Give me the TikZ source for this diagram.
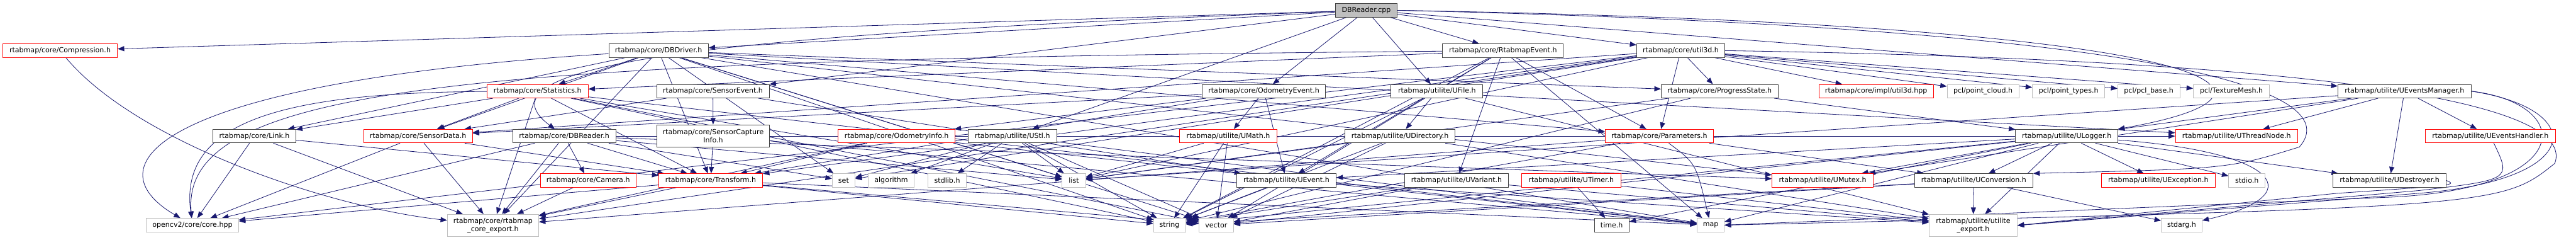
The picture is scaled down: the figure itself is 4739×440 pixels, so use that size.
\documentclass[tikz,border=0pt]{standalone}
\usepackage{fontspec}
\setmainfont{DejaVu Sans}
\usepackage{tikz}
\usetikzlibrary{arrows.meta,backgrounds}
\tikzset{every node/.style={font=\fontsize{9.6}{11.5}\selectfont}}
\definecolor{edgecol}{HTML}{191970}
\definecolor{boxcol}{HTML}{404040}
\definecolor{syscol}{HTML}{BFBFBF}
\colorlet{rootcol}{syscol}
\colorlet{trunccol}{red}
\tikzset{
  hdr/.style={draw=boxcol, line width=0.75pt, fill=white, minimum height=18.75pt,
    inner xsep=2pt, inner ysep=1pt, align=center},
  redhdr/.style={hdr, draw=trunccol},
  syshdr/.style={hdr, draw=syscol},
  wd/.style={minimum width=#1*0.75pt},
  tall/.style={minimum height=30.5pt},
  dep/.style={draw=edgecol, line width=0.7pt, ->},
}

\begin{document}
\begin{tikzpicture}[x=0.75pt, y=-0.75pt, >={Triangle[length=9pt,width=7pt]}]

  % Page frame.
  \useasboundingbox (0,0) rectangle (4739,440);

  % The source file.
  \node[hdr, fill=rootcol, wd=113] (cpp) at (2513.5,19) {DBReader.cpp};

  % Headers it includes directly.
  \node[redhdr, wd=211] (compr) at (110.5,93) {rtabmap/core/Compression.h};
  \node[hdr, wd=183] (dbdrv) at (1211.5,93) {rtabmap/core/DBDriver.h};
  \node[hdr, wd=222] (rtevt) at (2765,93) {rtabmap/core/RtabmapEvent.h};
  \node[hdr, wd=162] (util3d) at (3092,93) {rtabmap/core/util3d.h};

  % Third row.
  \node[redhdr, wd=186] (stats) at (989,167.5) {rtabmap/core/Statistics.h};
  \node[hdr, wd=207] (senevt) at (1311.5,167.5) {rtabmap/core/SensorEvent.h};
  \node[hdr, wd=226] (odoevt) at (2325,167.5) {rtabmap/core/OdometryEvent.h};
  \node[hdr, wd=169] (ufile) at (2643.5,167.5) {rtabmap/utilite/UFile.h};
  \node[hdr, wd=215] (progress) at (3163.5,167.5) {rtabmap/core/ProgressState.h};
  \node[redhdr, wd=211] (u3dhpp) at (3451.5,167.5) {rtabmap/core/impl/util3d.hpp};
  \node[syshdr, wd=132] (pclcloud) at (3648,167.5) {pcl/point\_cloud.h};
  \node[syshdr, wd=133] (pcltypes) at (3805.5,167.5) {pcl/point\_types.h};
  \node[syshdr, wd=114] (pclbase) at (3953,167.5) {pcl/pcl\_base.h};
  \node[syshdr, wd=140] (pclmesh) at (4105,167.5) {pcl/TextureMesh.h};
  \node[hdr, wd=245] (uevtmgr) at (4423.5,167.5) {rtabmap/utilite/UEventsManager.h};

  % Fourth row.
  \node[hdr, wd=152] (link) at (468,250) {rtabmap/core/Link.h};
  \node[redhdr, wd=200] (sdata) at (769,250) {rtabmap/core/SensorData.h};
  \node[hdr, wd=190] (dbrdr) at (1038,250) {rtabmap/core/DBReader.h};
  \node[hdr, tall, wd=208] (capinfo) at (1312,249.5) {rtabmap/core/SensorCapture\\Info.h};
  \node[redhdr, wd=215] (odoinfo) at (1649.5,250) {rtabmap/core/OdometryInfo.h};
  \node[hdr, wd=163] (ustl) at (1862.5,250) {rtabmap/utilite/UStl.h};
  \node[redhdr, wd=179] (umath) at (2259.5,250) {rtabmap/utilite/UMath.h};
  \node[hdr, wd=203] (udir) at (2575.5,250) {rtabmap/utilite/UDirectory.h};
  \node[redhdr, wd=199] (params) at (3052.5,250) {rtabmap/core/Parameters.h};
  \node[hdr, wd=188] (ulog) at (3802,250) {rtabmap/utilite/ULogger.h};
  \node[redhdr, wd=225] (uthread) at (4114.5,250) {rtabmap/utilite/UThreadNode.h};
  \node[redhdr, wd=239] (uevthdl) at (4581.5,250) {rtabmap/utilite/UEventsHandler.h};

  % Fifth row.
  \node[redhdr, wd=176] (camera) at (1082,331.5) {rtabmap/core/Camera.h};
  \node[redhdr, wd=191] (transform) at (1307.5,331.5) {rtabmap/core/Transform.h};
  \node[syshdr, wd=42] (set) at (1552,331.5) {set};
  \node[syshdr, wd=85] (algo) at (1639.5,331.5) {algorithm};
  \node[syshdr, wd=71] (stdlib) at (1742.5,331.5) {stdlib.h};
  \node[syshdr, wd=43] (list) at (1975.5,331.5) {list};
  \node[hdr, wd=183] (uevent) at (2366.5,331.5) {rtabmap/utilite/UEvent.h};
  \node[hdr, wd=191] (uvar) at (2679.5,331.5) {rtabmap/utilite/UVariant.h};
  \node[redhdr, wd=183] (utimer) at (2890.5,331.5) {rtabmap/utilite/UTimer.h};
  \node[redhdr, wd=186] (umutex) at (3353,331.5) {rtabmap/utilite/UMutex.h};
  \node[hdr, wd=218] (uconv) at (3631,331.5) {rtabmap/utilite/UConversion.h};
  \node[redhdr, wd=209] (uexcept) at (3970.5,331.5) {rtabmap/utilite/UException.h};
  \node[syshdr, wd=67] (stdio) at (4133.5,331.5) {stdio.h};
  \node[hdr, wd=208] (udestroy) at (4396,331.5) {rtabmap/utilite/UDestroyer.h};

  % Bottom row.
  \node[syshdr, wd=170] (opencv) at (354,413.5) {opencv2/core/core.hpp};
  \node[syshdr, tall, wd=168] (coreexp) at (907,414) {rtabmap/core/rtabmap\\\_core\_export.h};
  \node[syshdr, wd=59] (string) at (2151.5,413.5) {string};
  \node[syshdr, wd=63] (vector) at (2237.5,413.5) {vector};
  \node[hdr, wd=64] (timeh) at (2965,413.5) {time.h};
  \node[syshdr, wd=50] (map) at (3147,413.5) {map};
  \node[syshdr, tall, wd=162] (utilexp) at (3630,414) {rtabmap/utilite/utilite\\\_export.h};
  \node[syshdr, wd=75] (stdarg) at (4013.5,413.5) {stdarg.h};

  \begin{pgfonlayer}{background}
    \fill[white] (0,0) rectangle (4739,440);

    % Includes of the source file.
    \foreach \t in {compr,dbdrv,rtevt,util3d,senevt,odoevt,ufile,uevtmgr,ustl} {
      \draw[dep] (cpp) -- (\t);
    }
    \draw[dep] (cpp) .. controls (1400,60) and (850,110) .. (dbrdr);
    \draw[dep] (cpp.east) .. controls (4100,45) and (4280,170) .. (ulog.north east);
    \draw[dep] (cpp.east) .. controls (4150,55) and (4300,190) .. (4230,270)
      .. controls (4100,310) .. (uconv.north east);

    % Core headers.
    \draw[dep] (compr) .. controls (250,260) and (600,380) .. (coreexp);
    \foreach \t in {stats,sdata,link,transform,set,list,map,string,vector,coreexp,umutex,uthread,params,progress} {
      \draw[dep] (dbdrv) -- (\t);
    }
    \draw[dep] (dbdrv) .. controls (300,150) and (160,300) .. (opencv);
    \foreach \t in {stats,uevent,uvar,params,string,vector,map} {
      \draw[dep] (rtevt) -- (\t);
    }
    \draw[dep] (rtevt) .. controls (900,110) and (330,150) .. (opencv);
    \foreach \t in {sdata,transform,params,progress,u3dhpp,pclcloud,pcltypes,pclbase,pclmesh,set,list,opencv,coreexp} {
      \draw[dep] (util3d) -- (\t);
    }
    \draw[dep] (util3d.east) .. controls (4300,110) and (4740,190) .. (4700,300)
      .. controls (4600,380) .. (map.east);
    \foreach \t in {link,transform,sdata,coreexp,list,map,vector,string} {
      \draw[dep] (stats) -- (\t);
    }
    \draw[dep] (stats) .. controls (500,170) and (330,230) .. (opencv);
    \foreach \t in {capinfo,sdata,uevent} {
      \draw[dep] (senevt) -- (\t);
    }
    \foreach \t in {sdata,odoinfo,transform,uevent,umath} {
      \draw[dep] (odoevt) -- (\t);
    }
    \foreach \t in {ulog,list,string} {
      \draw[dep] (progress) -- (\t);
    }
    \foreach \t in {opencv,coreexp,transform} {
      \draw[dep] (link) -- (\t);
      \draw[dep] (sdata) -- (\t);
    }
    \foreach \t in {camera,transform,coreexp,opencv,set,list,uthread,umutex} {
      \draw[dep] (dbrdr) -- (\t);
    }
    \draw[dep] (capinfo) -- (transform);
    \draw[dep] (capinfo) -- (map);
    \foreach \t in {transform,coreexp,map} {
      \draw[dep] (odoinfo) -- (\t);
    }
    \foreach \t in {coreexp,string,uconv} {
      \draw[dep] (params) -- (\t);
    }
    \draw[dep] (params) .. controls (3120,300) .. (map);
    \draw[dep] (camera) -- (coreexp);
    \foreach \t in {coreexp,opencv,vector,string,map} {
      \draw[dep] (transform) -- (\t);
    }

    % Utilite headers.
    \foreach \t in {udir,utilexp,string} {
      \draw[dep] (ufile) -- (\t);
    }
    \foreach \t in {uevthdl,uthread,udestroy,ulog,umutex,list} {
      \draw[dep] (uevtmgr) -- (\t);
    }
    \draw[dep] (uevtmgr.east) .. controls (4760,200) and (4760,330) .. (4450,355)
      -- (utilexp.east);
    \draw[dep] (uevtmgr.east) .. controls (4735,190) and (4745,345) .. (4400,362)
      -- (map.east);
    \foreach \t in {set,algo,stdlib,list,string,vector,map} {
      \draw[dep] (ustl) -- (\t);
    }
    \foreach \t in {list,string,vector} {
      \draw[dep] (umath) -- (\t);
    }
    \foreach \t in {utilexp,string,vector,list} {
      \draw[dep] (udir) -- (\t);
    }
    \foreach \t in {utilexp,umutex,udestroy,uevent,uexcept,stdio,string,vector,map,timeh,uconv} {
      \draw[dep] (ulog) -- (\t);
    }
    \draw[dep] (ulog) .. controls (4200,280) and (4250,360) .. (stdarg);
    \foreach \t in {utilexp,string} {
      \draw[dep] (uevent) -- (\t);
    }
    \foreach \t in {utilexp,string,vector} {
      \draw[dep] (uvar) -- (\t);
    }
    \draw[dep] (utimer) -- (timeh);
    \draw[dep] (utimer) -- (utilexp);
    \foreach \t in {utilexp,string,vector,stdarg} {
      \draw[dep] (uconv) -- (\t);
    }
    \draw[dep] (udestroy.east) .. controls (4520,340) .. (4300,355) -- (utilexp.east);
    \draw[dep] (uevthdl) .. controls (4620,330) .. (4450,350) -- (utilexp.east);
  \end{pgfonlayer}

\end{tikzpicture}
\end{document}
